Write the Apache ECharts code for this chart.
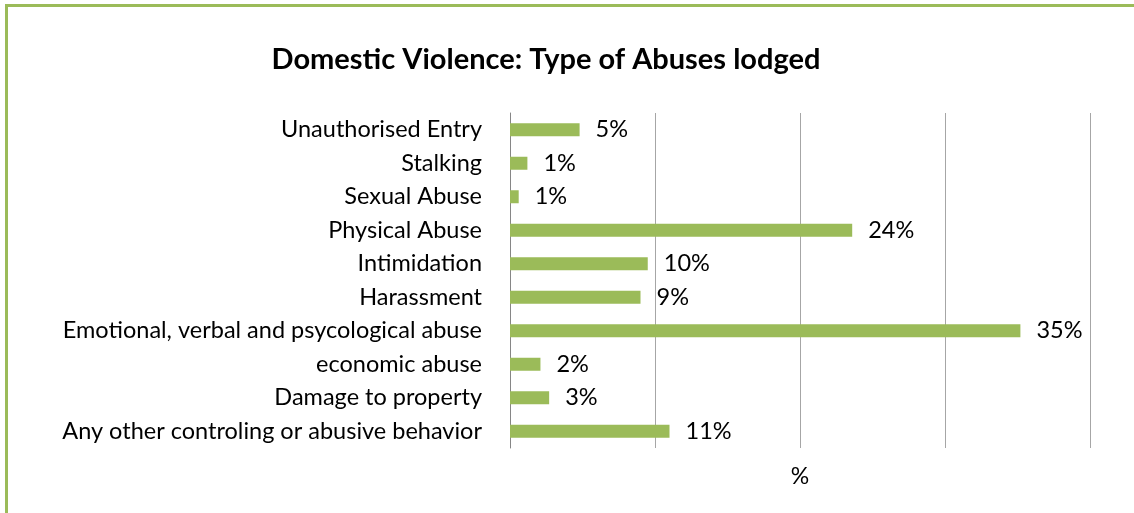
<!DOCTYPE html>
<html>
<head>
<meta charset="utf-8">
<title>Domestic Violence: Type of Abuses lodged</title>
<script src="https://cdn.jsdelivr.net/npm/echarts@6/dist/echarts.min.js"></script>
<style>
  html, body { margin: 0; padding: 0; background: #fff; overflow: hidden; }
  #frame {
    position: absolute; left: 5px; top: 4px; width: 1200px; height: 600px;
    border-left: 3px solid #9bbb59; border-top: 3px solid #9bbb59;
  }
  #chart { position: absolute; left: 0; top: 0; width: 1134px; height: 513px; }
</style>
</head>
<body>
<div id="frame"></div>
<div id="chart"></div>
<script>
  // categories top to bottom
  var categories = [
    "Unauthorised Entry",
    "Stalking",
    "Sexual Abuse",
    "Physical Abuse",
    "Intimidation",
    "Harassment",
    "Emotional, verbal and psycological abuse",
    "economic abuse",
    "Damage to property",
    "Any other controling or abusive behavior"
  ];
  // percent share
  var values = [4.8, 1.2, 0.6, 23.6, 9.5, 9.0, 35.2, 2.1, 2.7, 11.0];
  var xTicks = [0, 10, 20, 30, 40];

  var font = "Lato, 'Open Sans', sans-serif";
  var chart = echarts.init(document.getElementById("chart"));
  chart.setOption({
    animation: false,
    title: {
      text: "Domestic Violence: Type of Abuses lodged",
      left: 541,
      textAlign: "center",
      top: 40,
      textStyle: { fontFamily: font, fontSize: 29, fontWeight: "bold", color: "#000" }
    },
    grid: { left: 510, right: 44, top: 113, bottom: 65 },
    xAxis: {
      type: "value",
      min: xTicks[0],
      max: xTicks[xTicks.length - 1],
      interval: 10,
      name: "%",
      nameLocation: "middle",
      nameGap: 17,
      nameTextStyle: { fontFamily: font, fontSize: 23, color: "#000" },
      axisLine: { show: false },
      axisTick: { show: false },
      axisLabel: { show: false },
      splitLine: { show: true, lineStyle: { color: "#a6a6a6", width: 1 } }
    },
    yAxis: {
      type: "category",
      inverse: true,
      data: categories,
      axisLine: { show: true, lineStyle: { color: "#868686", width: 1 } },
      axisTick: { show: false },
      axisLabel: { margin: 28, fontFamily: font, fontSize: 23.5, color: "#000" }
    },
    series: [{
      type: "bar",
      data: values,
      barWidth: 13,
      itemStyle: { color: "#9bbb59" },
      label: {
        show: true,
        position: "right",
        distance: 16,
        fontFamily: font,
        fontSize: 23.5,
        color: "#000",
        formatter: function (p) { return Math.round(p.value) + "%"; }
      }
    }]
  });
</script>
</body>
</html>
